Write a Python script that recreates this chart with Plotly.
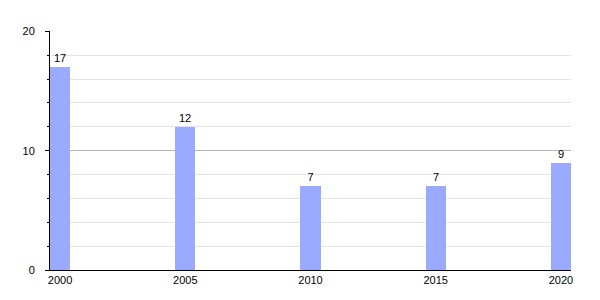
import plotly.graph_objects as go

years = [2000, 2005, 2010, 2015, 2020]
values = [17, 12, 7, 7, 9]
y_ticks = [0, 10, 20]
x_tick_labels = ["2000", "2005", "2010", "2015", "2020"]

fig = go.Figure(go.Bar(
    x=years, y=values, width=0.8,
    marker=dict(color="#99aaff", line=dict(width=0)),
    text=[str(v) for v in values], textposition="outside",
    textfont=dict(size=11, color="black"),
    cliponaxis=False,
))

fig.update_layout(
    width=600, height=300,
    margin=dict(l=50, r=29, t=31, b=30),
    paper_bgcolor="white", plot_bgcolor="white",
    font=dict(family="Liberation Sans, Arial, sans-serif", size=11, color="black"),
    showlegend=False,
    bargap=0,
)
fig.update_xaxes(
    range=[1999.6, 2020.4], tickvals=years, ticktext=x_tick_labels,
    showgrid=False, showline=True, linecolor="black", linewidth=1,
    ticks="", ticklabelstandoff=0, zeroline=False,
)
fig.update_yaxes(
    range=[0, 20.03], tickvals=y_ticks,
    showgrid=True, gridcolor="#b4b4b4", gridwidth=1,
    showline=True, linecolor="black", linewidth=1,
    ticks="outside", ticklen=4, tickcolor="black", ticklabelstandoff=8,
    zeroline=False,
    minor=dict(dtick=2, showgrid=True, gridcolor="#e4e4e4", gridwidth=1,
               ticks="outside", ticklen=2, tickcolor="black"),
)

fig.write_html("out.html")
